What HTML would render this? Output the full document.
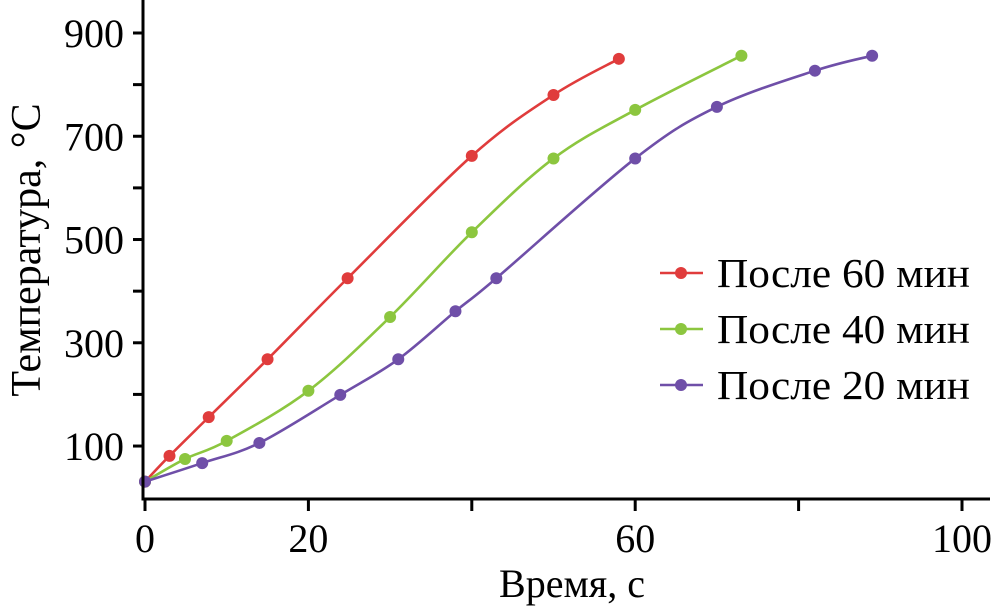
<!DOCTYPE html>
<html><head><meta charset="utf-8"><style>
body{margin:0;background:#fff}
svg{display:block;font-family:"Liberation Serif","DejaVu Serif",serif}
</style></head><body>
<svg id="chart" width="996" height="606" viewBox="0 0 996 606"></svg>
<script>
const xTicks=[0,20,40,60,80,100];
const xTickLabels=["0","20","","60","","100"];
const yTicks=[100,200,300,400,500,600,700,800,900];
const yTickLabels=["100","","300","","500","","700","","900"];
const seriesNames=["После 60 мин","После 40 мин","После 20 мин"];
const seriesColors=["#e03c3c","#8cc63f","#6f4fa8"];
const x60=[0,3,7.8,15,24.8,40,50,58];
const y60=[31,81,156,268,425,662,780,850];
const x40=[0,4.9,10,20,30,40,50,60,73];
const y40=[31,75,110,207,350,514,657,751,856];
const x20=[0,7,14,23.9,31,38,43,60,70,82,89];
const y20=[31,67,106,199,268,361,425,657,757,827,856];
const seriesX=[x60,x40,x20];
const seriesY=[y60,y40,y20];

const NS="http://www.w3.org/2000/svg";
const svg=document.getElementById('chart');
const X=v=>145+v*8.17;
const Y=v=>33+(900-v)*0.5163;
function mk(t,a,p){const e=document.createElementNS(NS,t);for(const k in a)e.setAttribute(k,a[k]);(p||svg).appendChild(e);return e;}

seriesX.forEach((xs,s)=>{
  const pts=xs.map((x,i)=>[X(x),Y(seriesY[s][i])]);
  let d=`M${pts[0][0]},${pts[0][1]}`;
  for(let i=0;i<pts.length-1;i++){
    const p0=pts[i-1]||pts[i],p1=pts[i],p2=pts[i+1],p3=pts[i+2]||p2;
    const c1=[p1[0]+(p2[0]-p0[0])/6,p1[1]+(p2[1]-p0[1])/6];
    const c2=[p2[0]-(p3[0]-p1[0])/6,p2[1]-(p3[1]-p1[1])/6];
    d+=` C${c1[0]},${c1[1]} ${c2[0]},${c2[1]} ${p2[0]},${p2[1]}`;
  }
  const path=mk('path',{d:d,fill:'none',stroke:seriesColors[s],'stroke-width':2.6});
  
  
  pts.forEach((p,i)=>{
    const c=mk('circle',{cx:p[0],cy:p[1],r:6,fill:seriesColors[s]});
    
    
  });
});

const ax=mk('path',{d:'M143,0 V499 H990',fill:'none',stroke:'#000','stroke-width':3});


yTicks.forEach((v,i)=>{
  const t=mk('line',{x1:133,x2:143,y1:Y(v),y2:Y(v),stroke:'#000','stroke-width':3});
  
  
  if(yTickLabels[i]){
    const l=mk('text',{x:124,y:Y(v)+14,'text-anchor':'end','font-size':40});
    l.textContent=yTickLabels[i];
    
    
  }
});
xTicks.forEach((v,i)=>{
  const t=mk('line',{x1:X(v),x2:X(v),y1:499,y2:511,stroke:'#000','stroke-width':3});
  
  
  if(xTickLabels[i]){
    const l=mk('text',{x:X(v),y:552,'text-anchor':'middle','font-size':40});
    l.textContent=xTickLabels[i];
    
    
  }
});
const xt=mk('text',{x:572,y:597,'text-anchor':'middle','font-size':40});
xt.textContent='Время, с';


const yt=mk('text',{x:0,y:0,'text-anchor':'middle','font-size':42,transform:'translate(40,250) rotate(-90)'});
yt.textContent='Температура, °С';



seriesNames.forEach((n,s)=>{
  const cy=273+s*56;
  const g=mk('g',{});
  
  
  mk('line',{x1:660,x2:703,y1:cy,y2:cy,stroke:seriesColors[s],'stroke-width':2.6},g);
  mk('circle',{cx:681,cy:cy,r:6,fill:seriesColors[s]},g);
  const t=mk('text',{x:717,y:cy+14,'font-size':41,textLength:253,lengthAdjust:'spacingAndGlyphs'},g);
  t.textContent=n;
});
</script>
</body></html>
